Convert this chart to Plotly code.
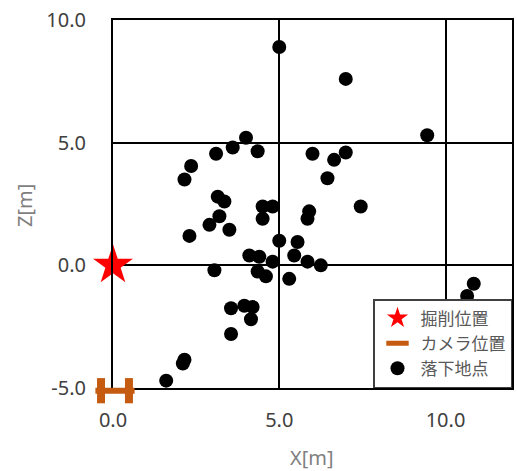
import plotly.graph_objects as go

# 落下地点 (drop points)
drop_x = [5.0, 7.0, 9.45, 4.0, 3.6, 3.1, 4.35, 6.0, 7.0, 6.65, 6.45, 2.35, 2.15,
          3.15, 3.35, 4.5, 4.8, 4.5, 5.9, 5.85, 7.45, 3.2, 2.9, 3.5, 2.3,
          5.0, 5.55, 4.1, 4.4, 5.45, 4.8, 5.85, 6.25, 3.05, 4.35, 4.6, 5.3,
          10.85, 10.65, 3.55, 3.95, 4.2, 4.15, 3.55, 2.15, 2.1, 1.6]
drop_z = [8.9, 7.6, 5.3, 5.2, 4.8, 4.55, 4.65, 4.55, 4.6, 4.3, 3.55, 4.05, 3.5,
          2.8, 2.6, 2.4, 2.4, 1.9, 2.2, 1.9, 2.4, 2.0, 1.65, 1.45, 1.2,
          1.0, 0.95, 0.4, 0.35, 0.4, 0.15, 0.15, 0.0, -0.2, -0.25, -0.45, -0.55,
          -0.75, -1.25, -1.75, -1.65, -1.7, -2.2, -2.8, -3.85, -4.0, -4.7]

# 掘削位置 (dig position)
dig_x = [0.0]
dig_z = [0.0]

# カメラ位置 (camera centre and its two end caps)
cam_x = [0.06]
cam_z = [-5.11]
cam_end_x = [-0.36, 0.48]
cam_end_z = [-5.11, -5.11]

x_ticks = [0, 5, 10]
x_tick_labels = ["0.0", "5.0", "10.0"]
z_ticks = [-5, 0, 5, 10]
z_tick_labels = ["-5.0", "0.0", "5.0", "10.0"]

x_range = [0, 12]
z_range = [-5, 10]

orange = "#C55A11"
jp_font = "Noto Sans CJK JP"
num_font = "Noto Sans"

# ---- layout geometry (pixels) ----
W, H = 517, 471
ml, mr, mt, mb = 93, 5, 20, 63
pad_l, pad_b = 20, 20          # extra room left/below main axes for the camera mark
reg_w = W - ml - mr
reg_h = H - mt - mb
x_dom0 = pad_l / reg_w
y_dom0 = pad_b / reg_h
px_per_x = (reg_w - pad_l) / (x_range[1] - x_range[0])
px_per_z = (reg_h - pad_b) / (z_range[1] - z_range[0])
x2_range = [x_range[0] - pad_l / px_per_x, x_range[1]]
z2_range = [z_range[0] - pad_b / px_per_z, z_range[1]]

fig = go.Figure()
fig.add_trace(go.Scatter(
    x=dig_x, y=dig_z, mode="markers", name="掘削位置",
    marker=dict(symbol="star", size=30, color="#FF0000", line=dict(width=0)),
    cliponaxis=False))
fig.add_trace(go.Scatter(
    x=cam_x, y=cam_z, mode="markers", name="カメラ位置",
    xaxis="x2", yaxis="y2",
    marker=dict(symbol="line-ew", size=28, color=orange,
                line=dict(color=orange, width=6)),
    cliponaxis=False))
fig.add_trace(go.Scatter(
    x=cam_end_x, y=cam_end_z, mode="markers", showlegend=False,
    xaxis="x2", yaxis="y2",
    marker=dict(symbol="line-ns", size=18, color=orange,
                line=dict(color=orange, width=8)),
    cliponaxis=False))
fig.add_trace(go.Scatter(
    x=drop_x, y=drop_z, mode="markers", name="落下地点",
    marker=dict(symbol="circle", size=14, color="#000000", line=dict(width=0)),
    cliponaxis=False))

axis_common = dict(
    showgrid=True, gridcolor="#000000", gridwidth=1.5,
    showline=True, linecolor="#000000", linewidth=2, mirror=True,
    zeroline=True, zerolinecolor="#000000", zerolinewidth=1.5,
    ticks="", automargin=False, ticklabeloverflow="allow",
    tickfont=dict(size=20, color="#404040", family=num_font),
)

fig.update_layout(
    xaxis=dict(range=x_range, domain=[x_dom0, 1], anchor="y",
               tickvals=x_ticks, ticktext=x_tick_labels,
               ticklabelstandoff=13, **axis_common),
    yaxis=dict(range=z_range, domain=[y_dom0, 1], anchor="x",
               tickvals=z_ticks, ticktext=z_tick_labels,
               ticklabelstandoff=21, **axis_common),
    xaxis2=dict(range=x2_range, domain=[0, 1], anchor="y2", visible=False,
                showgrid=False, zeroline=False),
    yaxis2=dict(range=z2_range, domain=[0, 1], anchor="x2", visible=False,
                showgrid=False, zeroline=False),
)

# axis titles (paper coordinates of the whole plotting region)
fig.add_annotation(text="X[m]", xref="paper", yref="paper",
                   x=(312 - ml) / reg_w, y=(H - mb - 457) / reg_h,
                   xanchor="center", yanchor="middle", showarrow=False,
                   font=dict(size=20, color="#7F7F7F", family=num_font))
fig.add_annotation(text="Z[m]", xref="paper", yref="paper",
                   x=(25 - ml) / reg_w, y=(H - mb - 206) / reg_h,
                   xanchor="center", yanchor="middle", showarrow=False, textangle=-90,
                   font=dict(size=20, color="#7F7F7F", family=num_font))

fig.update_layout(
    width=W, height=H,
    margin=dict(l=ml, r=mr, t=mt, b=mb),
    paper_bgcolor="white", plot_bgcolor="rgba(0,0,0,0)",
    font=dict(family=jp_font, color="#404040"),
    legend=dict(x=1, xanchor="right", y=y_dom0, yanchor="bottom",
                bgcolor="white", bordercolor="#404040", borderwidth=1.5,
                font=dict(size=17, color="#595959", family=jp_font),
                tracegroupgap=0, itemwidth=36),
)

fig.write_html("out.html", config={"displayModeBar": False},
               post_script="document.body.style.margin='0';document.body.style.overflow='hidden';")
